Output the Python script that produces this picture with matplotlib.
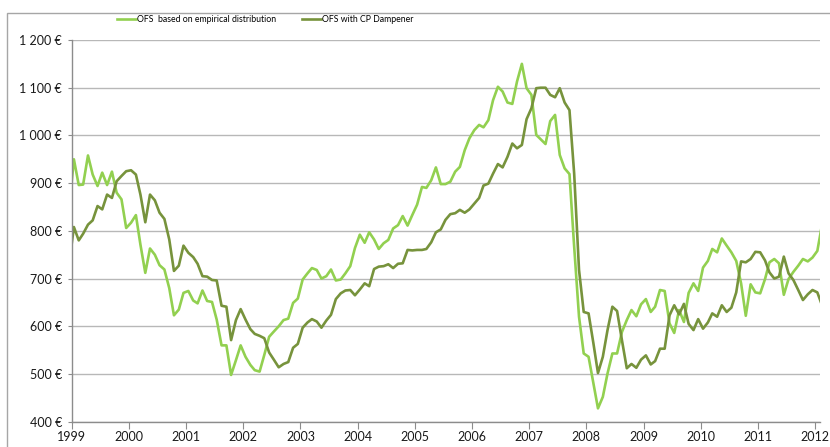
import numpy as np
import pandas as pd
import matplotlib
matplotlib.use("Agg")
import matplotlib.pyplot as plt
import matplotlib.dates as mdates
from matplotlib.patches import Rectangle
from matplotlib.ticker import FuncFormatter
from matplotlib.font_manager import FontProperties
import datetime as dt

plt.rcParams['font.family'] = ['Lato', 'DejaVu Sans']

# monthly values, Dec 1998 .. Feb 2012 (first and last fall just outside the axis)
months = pd.date_range('1998-12-01', periods=159, freq='MS') + pd.Timedelta(days=14)

ofs_empirical = [
    844,
    950, 896, 897, 958, 918, 894, 922, 896, 924, 880,
    866, 806, 817, 833, 771, 712, 763, 750, 728, 719,
    680, 623, 635, 670, 674, 654, 648, 675, 653, 651,
    614, 560, 560, 498, 529, 560, 536, 519, 508, 505,
    540, 578, 589, 600, 613, 616, 649, 658, 698, 711,
    722, 718, 700, 705, 719, 696, 698, 711, 726, 764,
    792, 775, 797, 782, 762, 774, 781, 805, 812, 831,
    811, 833, 855, 892, 890, 906, 933, 898, 898, 903,
    924, 934, 969, 994, 1011, 1022, 1017, 1032, 1074, 1102,
    1092, 1069, 1066, 1113, 1150, 1099, 1085, 1001, 992, 982,
    1030, 1043, 959, 931, 919, 767, 620, 543, 536, 480,
    428, 452, 501, 543, 543, 588, 613, 634, 621, 646,
    657, 630, 641, 676, 674, 606, 586, 634, 609, 670,
    690, 674, 723, 737, 762, 755, 784, 769, 755, 737,
    690, 622, 688, 671, 669, 699, 734, 741, 732, 666,
    699, 714, 727, 741, 736, 744, 758, 815,
]

ofs_dampener = [
    729,
    808, 780, 794, 813, 822, 852, 845, 876, 869, 904,
    915, 925, 927, 918, 876, 818, 876, 864, 838, 825,
    782, 716, 727, 769, 754, 745, 731, 705, 704, 697,
    696, 643, 641, 571, 613, 636, 614, 594, 584, 580,
    575, 545, 530, 514, 521, 525, 555, 563, 597, 608,
    615, 610, 597, 612, 624, 657, 669, 675, 676, 665,
    677, 690, 684, 720, 725, 726, 730, 722, 731, 732,
    760, 759, 760, 760, 762, 776, 797, 803, 823, 835,
    837, 844, 838, 845, 857, 869, 895, 899, 920, 940,
    933, 955, 983, 973, 980, 1034, 1057, 1099, 1100, 1100,
    1085, 1080, 1099, 1069, 1053, 920, 718, 630, 627, 564,
    502, 536, 592, 641, 632, 571, 512, 521, 513, 530,
    539, 520, 527, 553, 553, 623, 644, 625, 647, 605,
    592, 615, 595, 608, 627, 620, 644, 630, 639, 671,
    736, 734, 741, 756, 755, 738, 713, 700, 704, 746,
    711, 697, 676, 655, 667, 676, 671, 643,
]

years = list(range(1999, 2013))
y_ticks = [400, 500, 600, 700, 800, 900, 1000, 1100, 1200]

light = '#92D050'
dark = '#77933C'

fig = plt.figure(figsize=(8.3, 4.47), dpi=100)
ax = fig.add_axes([71.7 / 830, 1 - 421.7 / 447, (820 - 71.7) / 830, (421.7 - 40) / 447])

ax.plot(months, ofs_empirical, color=light, lw=1.9, label='OFS  based on empirical distribution')
ax.plot(months, ofs_dampener, color=dark, lw=1.9, label='OFS with CP Dampener')

ax.set_xlim(dt.datetime(1999, 1, 1), dt.datetime(2012, 2, 1))
ax.set_ylim(400, 1200)
ax.set_yticks(y_ticks)
ax.yaxis.set_major_formatter(FuncFormatter(lambda v, p: '{:,.0f} €'.format(v).replace(',', ' ')))
ax.set_xticks([dt.datetime(y, 1, 1) for y in years])
ax.xaxis.set_major_formatter(mdates.DateFormatter('%Y'))

ax.yaxis.grid(True, color='#b8b8b8', lw=1.0)
ax.set_axisbelow(True)
for s in ['top', 'right']:
    ax.spines[s].set_visible(False)
for s in ['left', 'bottom']:
    ax.spines[s].set_color('#8c8c8c')
    ax.spines[s].set_linewidth(1.0)
ax.tick_params(axis='y', length=3, color='#8c8c8c', labelsize=9, labelcolor='#1a1a1a', pad=4)
ax.tick_params(axis='x', length=5, color='#8c8c8c', labelsize=9, labelcolor='#1a1a1a', pad=2)

leg_font = FontProperties(family=['Liberation Sans Narrow', 'Lato'], size=6.3)
fig.legend(loc='center', bbox_to_anchor=(265 / 830, 1 - 20 / 447), ncol=2, frameon=False,
           prop=leg_font, handlelength=2.2, handletextpad=0.05, columnspacing=3.0)

# chart frame
fig.patches.append(Rectangle((7 / 830, -0.05), 1.1, 1 - 13 / 447 + 0.05, transform=fig.transFigure,
                             fill=False, edgecolor='#a6a6a6', lw=1.0))

fig.savefig('out.png', dpi=100)
